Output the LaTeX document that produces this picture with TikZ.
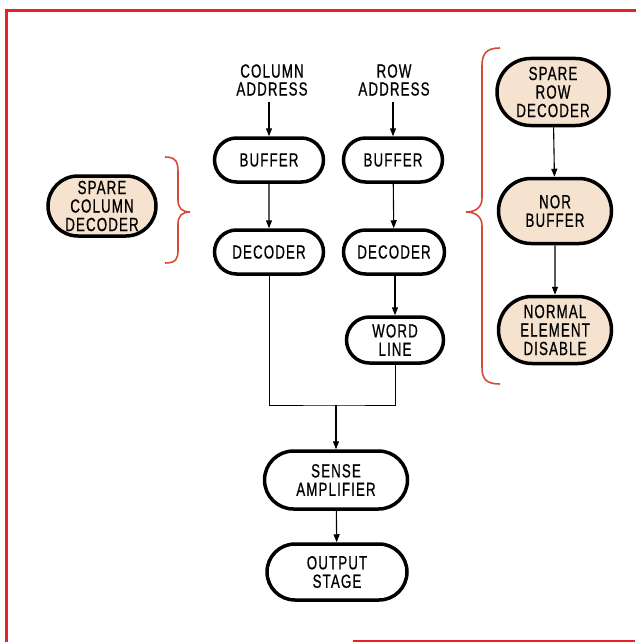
\documentclass[tikz,border=0pt]{standalone}
\usepackage{fontspec}
\setmainfont{Liberation Sans}[FakeStretch=0.7,LetterSpace=6,FakeBold=0.7]
\usetikzlibrary{shapes.misc,arrows.meta}
\definecolor{framered}{HTML}{E8202A}
\definecolor{bracered}{HTML}{D84A38}
\definecolor{beige}{HTML}{F5E3CF}
\begin{document}
\begin{tikzpicture}[x=1pt,y=-1pt,
  blk/.style={rounded rectangle, draw=black, line width=3.5pt, fill=white, align=center,
    font=\fontsize{19}{18.5}\selectfont, inner sep=0pt},
  spare/.style={blk, fill=beige},
  lbl/.style={align=center, font=\fontsize{19}{18}\selectfont, inner sep=0pt},
  conn/.style={line width=1.1pt, -{Triangle[length=8pt,width=6pt]}},
  wire/.style={line width=1pt},
  brc/.style={draw=bracered, line width=1.6pt}]
\useasboundingbox (0,0) rectangle (635,642);
\draw[framered, line width=3pt] (640,11) -- (6,11) -- (6,642);
\draw[framered, line width=2pt] (353,640.5) -- (635,640.5);

% labels
\node[lbl] (caddr) at (272,80) {COLUMN\\ADDRESS};
\node[lbl] (raddr) at (394,80) {ROW\\ADDRESS};

% left column
\node[blk, minimum width=109pt, minimum height=44pt] (cbuf) at (269,160) {BUFFER};
\node[blk, minimum width=109pt, minimum height=44pt] (cdec) at (269,252) {DECODER};

% right column
\node[blk, minimum width=99pt, minimum height=44pt] (rbuf) at (393,160) {BUFFER};
\node[blk, minimum width=101pt, minimum height=44pt] (rdec) at (394,252) {DECODER};
\node[blk, minimum width=97pt, minimum height=46pt] (word) at (395,340) {WORD\\LINE};

% bottom
\node[blk, minimum width=143pt, minimum height=58pt] (sense) at (336,480) {SENSE\\AMPLIFIER};
\node[blk, minimum width=140pt, minimum height=56pt] (outst) at (337,572) {OUTPUT\\STAGE};

% spare
\node[spare, minimum width=108pt, minimum height=60pt] (spcol) at (102,206) {SPARE\\COLUMN\\DECODER};
\node[spare, minimum width=112pt, minimum height=67pt] (sprow) at (553,92) {SPARE\\ROW\\DECODER};
\node[spare, minimum width=113pt, minimum height=65pt] (nor) at (555,211) {NOR\\BUFFER};
\node[spare, minimum width=113pt, minimum height=67pt] (ned) at (555,330) {NORMAL\\ELEMENT\\DISABLE};

% connectors
\draw[conn, shorten <=6pt] (cbuf.north |- caddr.south) -- (cbuf.north);
\draw[conn, shorten <=6pt] (rbuf.north |- raddr.south) -- (rbuf.north);
\draw[conn] (cbuf) -- (cdec);
\draw[conn] (rbuf) -- (rdec);
\draw[conn] (rdec.south -| word.north) -- (word.north);
\coordinate (j) at (336,405);
\draw[wire] (cdec.south) |- (j) -| (word.south);
\draw[conn] (j) -- (sense.north);
\draw[conn] (sense) -- (outst);
\draw[conn] (sprow) -- (nor);
\draw[conn] (nor) -- (ned);

% braces
\draw[brc] (165,157) .. controls (176,157) and (178,162) .. (178,172) -- (178,200)
  .. controls (178,208) and (182,212) .. (190,212)
  .. controls (182,212) and (178,216) .. (178,224) -- (178,250)
  .. controls (178,259) and (176,263) .. (165,263);
\draw[brc] (500,48) .. controls (486,48) and (482,54) .. (482,66) -- (482,198)
  .. controls (482,207) and (476,212) .. (466,212)
  .. controls (476,212) and (482,217) .. (482,226) -- (482,367)
  .. controls (482,379) and (486,384) .. (500,384);
\end{tikzpicture}
\end{document}
